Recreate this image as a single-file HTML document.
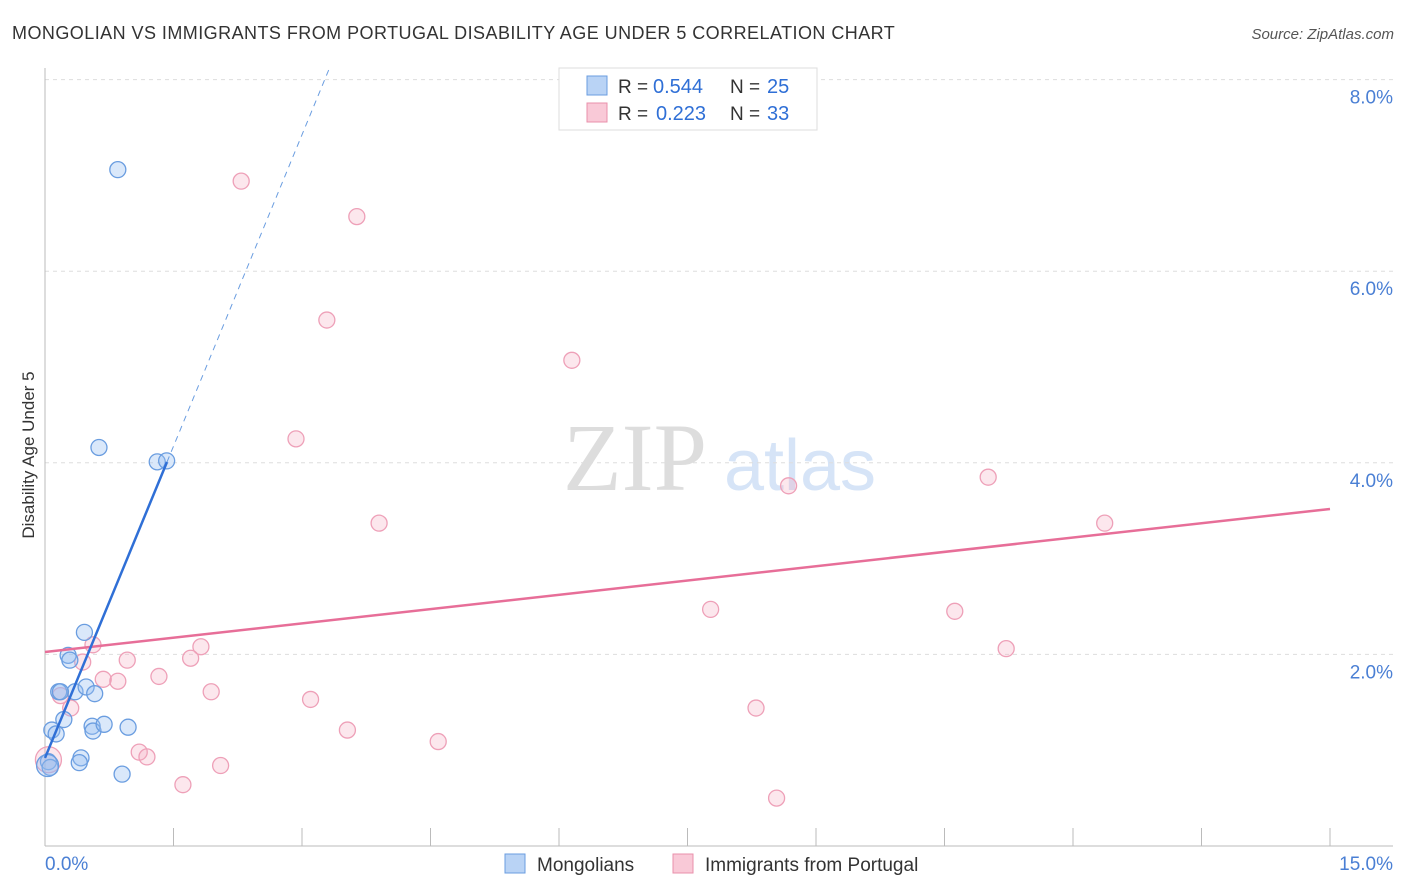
<!DOCTYPE html>
<html><head><meta charset="utf-8"><style>
body{margin:0;background:#fff;font-family:"Liberation Sans",sans-serif}
svg{display:block}
</style></head><body>
<svg id="c" width="1406" height="892">
<text x="12" y="39" font-size="18" fill="#333" letter-spacing="0.45">MONGOLIAN VS IMMIGRANTS FROM PORTUGAL DISABILITY AGE UNDER 5 CORRELATION CHART</text>
<text x="1394" y="39" font-size="15" fill="#555" font-style="italic" text-anchor="end">Source: ZipAtlas.com</text>
<text x="34" y="455" font-size="17" fill="#333" text-anchor="middle" transform="rotate(-90 34 455)">Disability Age Under 5</text>
<g><text x="635" y="490" font-size="96" fill="#ddd" font-family="Liberation Serif,serif" text-anchor="middle">ZIP</text><text x="800" y="490" font-size="72" fill="#d6e4f7" text-anchor="middle">atlas</text></g>
<g id="grid"></g><g id="axes"></g><g id="marks"></g>
<g>
<rect x="559" y="68" width="258" height="62" fill="#fff" stroke="#ddd"/>
<rect x="587" y="76" width="20" height="19" fill="#b9d3f5" stroke="#6a9de0"/>
<rect x="587" y="103" width="20" height="19" fill="#f9c9d7" stroke="#e990ab"/>
<text x="618" y="93" font-size="19" fill="#333">R =</text>
<text x="653" y="93" font-size="20" fill="#2f6fd6">0.544</text>
<text x="730" y="93" font-size="19" fill="#333">N =</text>
<text x="767" y="93" font-size="20" fill="#2f6fd6">25</text>
<text x="618" y="120" font-size="19" fill="#333">R =</text>
<text x="656" y="120" font-size="20" fill="#2f6fd6">0.223</text>
<text x="730" y="120" font-size="19" fill="#333">N =</text>
<text x="767" y="120" font-size="20" fill="#2f6fd6">33</text>
</g>
<g>
<rect x="505" y="854" width="20" height="19" fill="#b9d3f5" stroke="#6a9de0"/>
<text x="537" y="871" font-size="19" fill="#333">Mongolians</text>
<rect x="673" y="854" width="20" height="19" fill="#f9c9d7" stroke="#e990ab"/>
<text x="705" y="871" font-size="19" fill="#333">Immigrants from Portugal</text>
</g>
</svg>
<script>
const blueX=[0.85,0.63,1.31,1.42,0.46,0.27,0.29,0.16,0.35,0.48,0.58,0.22,0.55,0.56,0.69,0.97,0.08,0.13,0.42,0.40,0.90,0.04,0.06,0.18,0.03];
const blueY=[7.06,4.16,4.01,4.02,2.23,1.99,1.94,1.61,1.61,1.66,1.59,1.32,1.25,1.20,1.27,1.24,1.21,1.17,0.92,0.87,0.75,0.88,0.82,1.61,0.84];
const pinkX=[2.29,3.64,3.29,6.15,2.93,3.90,8.68,11.01,12.37,7.77,10.62,11.22,0.56,1.82,0.44,1.70,0.96,0.68,0.85,1.33,1.94,3.10,0.18,0.30,3.53,8.30,4.59,1.10,1.19,2.05,1.61,8.54,0.04];
const pinkY=[6.94,6.57,5.49,5.07,4.25,3.37,3.76,3.85,3.37,2.47,2.45,2.06,2.10,2.08,1.92,1.96,1.94,1.74,1.72,1.77,1.61,1.53,1.57,1.44,1.21,1.44,1.09,0.98,0.93,0.84,0.64,0.50,0.90];
const blueLine=[0,0.919,1.424,4.008,3.33,8.14];
const pinkLine=[0,2.025,15,3.518];
const yTicks=[2,4,6,8];
const xTicks=[0,1.5,3,4.5,6,7.5,9,10.5,12,13.5,15];
const NS="http://www.w3.org/2000/svg";
const sx=v=>45+v*(1285/15), sy=v=>846-v*95.8;
function mk(p,t,a){const e=document.createElementNS(NS,t);for(const k in a)e.setAttribute(k,a[k]);document.getElementById(p).appendChild(e);return e;}
yTicks.forEach(t=>{
 const l=mk('grid','line',{x1:45,x2:1393,y1:sy(t),y2:sy(t),stroke:'#ddd','stroke-dasharray':'4,4'});
 
 
 const tx=mk('grid','text',{x:1393,y:sy(t)+24,'font-size':19,fill:'#4a7fd4','text-anchor':'end'});tx.textContent=t.toFixed(1)+'%';
 
 
});
mk('axes','line',{x1:45,x2:45,y1:68,y2:846,stroke:'#bbb'});
mk('axes','line',{x1:45,x2:1393,y1:846,y2:846,stroke:'#bbb'});
xTicks.forEach(t=>{const l=mk('axes','line',{x1:sx(t),x2:sx(t),y1:828,y2:846,stroke:'#bbb'});
 
 });
const x0=mk('axes','text',{x:45,y:870,'font-size':19,fill:'#4a7fd4'});x0.textContent='0.0%';


const x1=mk('axes','text',{x:1393,y:870,'font-size':19,fill:'#4a7fd4','text-anchor':'end'});x1.textContent='15.0%';


pinkX.forEach((x,i)=>{const c=mk('marks','circle',{cx:sx(x),cy:sy(pinkY[i]),r:i==pinkX.length-1?13:8,fill:'rgba(246,168,192,0.28)',stroke:'#eea0b8','stroke-width':1.3});
 
 });
blueX.forEach((x,i)=>{const c=mk('marks','circle',{cx:sx(x),cy:sy(blueY[i]),r:i==blueX.length-1?11:8,fill:'rgba(150,190,240,0.35)',stroke:'#6a9de0','stroke-width':1.3});
 
 });
const pl=mk('marks','line',{x1:sx(pinkLine[0]),y1:sy(pinkLine[1]),x2:sx(pinkLine[2]),y2:sy(pinkLine[3]),stroke:'#e76e98','stroke-width':2.5});


const bl=mk('marks','line',{x1:sx(blueLine[0]),y1:sy(blueLine[1]),x2:sx(blueLine[2]),y2:sy(blueLine[3]),stroke:'#2f6fd6','stroke-width':2.5});


const bd=mk('marks','line',{x1:sx(blueLine[2]),y1:sy(blueLine[3]),x2:sx(blueLine[4]),y2:sy(blueLine[5]),stroke:'#6a9de0','stroke-width':1,'stroke-dasharray':'6,5'});


</script>
</body></html>
